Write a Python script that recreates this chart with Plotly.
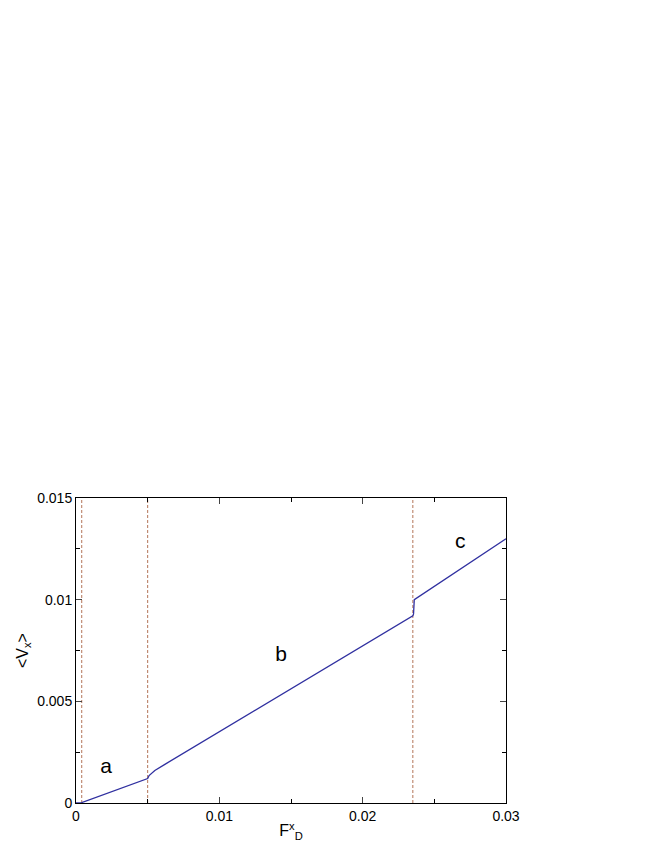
import plotly.graph_objects as go

# velocity-force curve
force = [0, 0.0004, 0.005, 0.0051, 0.0055, 0.0062, 0.0235, 0.02355, 0.0236, 0.03]
velocity = [0, 0.00002, 0.0012, 0.00135, 0.0016, 0.0019, 0.0092, 0.0093, 0.0100, 0.0130]

# dashed region boundaries
boundaries = [0.0004, 0.005, 0.0235]

# region labels
region_text = ["a", "b", "c"]
region_x = [0.0021, 0.0143, 0.0268]
region_y = [0.00175, 0.00725, 0.0128]

fig = go.Figure()
for b in boundaries:
    fig.add_trace(go.Scatter(x=[b, b], y=[0, 0.015], mode="lines",
                             line=dict(color="#a0522d", width=0.8, dash="3px,2px"),
                             showlegend=False, hoverinfo="skip"))
fig.add_trace(go.Scatter(x=force, y=velocity, mode="lines",
                         line=dict(color="#3030a0", width=1.3), showlegend=False))
fig.add_trace(go.Scatter(x=region_x, y=region_y, mode="text", text=region_text,
                         textfont=dict(size=21, color="black"), showlegend=False))

axis_common = dict(showgrid=False, zeroline=False, showline=True, linecolor="black",
                   linewidth=1, mirror="allticks", ticks="inside", ticklen=6,
                   automargin=False,
                   tickfont=dict(size=14, color="black"),
                   minor=dict(ticks="inside", ticklen=4, tickcolor="black"))

fig.update_layout(
    width=664, height=860, paper_bgcolor="white", plot_bgcolor="white",
    margin=dict(l=68, r=166, t=490, b=65),
    font=dict(family="Liberation Sans, Arial", color="black"),
    xaxis=dict(range=[0, 0.03], tickvals=[0, 0.01, 0.02, 0.03],
               ticktext=["0", "0.01", "0.02", "0.03"],
               title=dict(text="F<sup>x</sup><sub>D</sub>", font=dict(size=16), standoff=2),
               **axis_common),
    yaxis=dict(range=[0, 0.015], tickvals=[0, 0.005, 0.01, 0.015],
               ticktext=["0", "0.005", "0.01", "0.015"],
               title=dict(text="<V<sub>x</sub>>", font=dict(size=16), standoff=4),
               **axis_common),
)
fig.update_xaxes(minor_tickvals=[0.005, 0.015, 0.025])
fig.update_yaxes(minor_tickvals=[0.0025, 0.0075, 0.0125])

fig.write_html("out.html")
